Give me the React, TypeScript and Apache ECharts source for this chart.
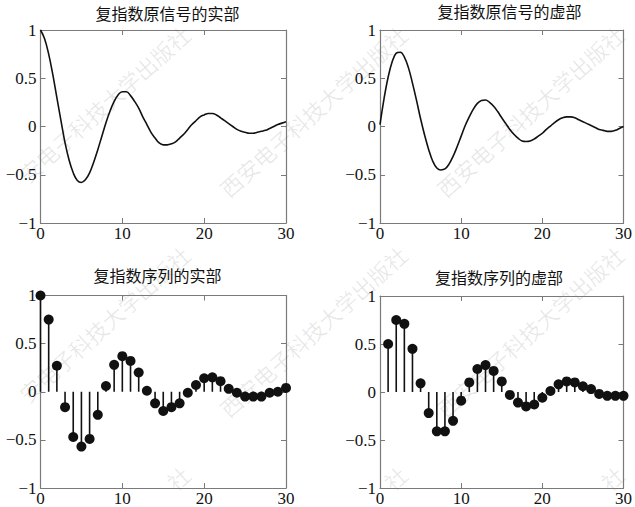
import React, { useEffect, useRef } from "react";
import * as echarts from "echarts";

const contRe = [
  1.0, 0.91, 0.75, 0.54, 0.3, 0.06, -0.17, -0.35, -0.48, -0.56, -0.58, -0.55, -0.48, -0.37, -0.24, -0.1,
  0.04, 0.16, 0.26, 0.33, 0.36, 0.36, 0.32, 0.26, 0.19, 0.1, 0.02, -0.06, -0.12, -0.17, -0.19, -0.19,
  -0.18, -0.16, -0.12, -0.08, -0.03, 0.02, 0.06, 0.1, 0.12, 0.135, 0.135, 0.12, 0.09, 0.06, 0.03, 0.0,
  -0.03, -0.05, -0.06, -0.07, -0.07, -0.06, -0.05, -0.04, -0.02, 0.0, 0.02, 0.035, 0.05,
];
const contIm = [
  0.02, 0.29, 0.51, 0.67, 0.76, 0.77, 0.72, 0.61, 0.45, 0.27, 0.08, -0.09, -0.24, -0.36, -0.43, -0.45,
  -0.44, -0.39, -0.31, -0.21, -0.1, 0.01, 0.1, 0.18, 0.24, 0.27, 0.275, 0.25, 0.21, 0.155, 0.09, 0.03,
  -0.03, -0.08, -0.12, -0.15, -0.155, -0.15, -0.13, -0.1, -0.07, -0.03, 0.005, 0.04, 0.07, 0.09, 0.1, 0.1,
  0.09, 0.07, 0.05, 0.03, 0.01, -0.01, -0.03, -0.04, -0.05, -0.05, -0.04, -0.02, 0.0,
];
const contStep = 0.5;

// Discrete sequence n = 0 … 30
const seqN = [
  0, 1, 2, 3, 4, 5, 6, 7, 8, 9, 10, 11, 12, 13, 14, 15, 16, 17, 18, 19, 20, 21, 22, 23, 24, 25, 26, 27, 28, 29, 30,
];
const seqRe = [
  1.0, 0.75, 0.27, -0.16, -0.47, -0.57, -0.49, -0.24, 0.06, 0.28, 0.37, 0.32, 0.2, 0.01, -0.12, -0.2,
  -0.16, -0.12, -0.01, 0.07, 0.14, 0.15, 0.11, 0.03, -0.01, -0.05, -0.05, -0.05, -0.01, 0.0, 0.04,
];
const seqIm = [
  null, 0.5, 0.75, 0.71, 0.45, 0.09, -0.22, -0.41, -0.41, -0.3, -0.09, 0.1, 0.24, 0.28, 0.22, 0.11,
  -0.03, -0.11, -0.15, -0.13, -0.06, 0.01, 0.08, 0.11, 0.1, 0.06, 0.03, -0.02, -0.04, -0.04, -0.04,
];

const titles = ["复指数原信号的实部", "复指数原信号的虚部", "复指数序列的实部", "复指数序列的虚部"];
const xTicks = { min: 0, max: 30, interval: 10 };
const yTicks = { min: -1, max: 1, interval: 0.5 };
const watermark = "西安电子科技大学出版社";

const W = 635;
const H = 507;

export default function App() {
  const ref = useRef<HTMLDivElement>(null);

  useEffect(() => {
    if (!ref.current) return;
    const chart = echarts.init(ref.current, null, { renderer: "svg" });

    const grids = [
      { left: 40.5, top: 30, width: 245.5, height: 193 },
      { left: 380, top: 30, width: 244.5, height: 193 },
      { left: 40.5, top: 295.5, width: 245.5, height: 193 },
      { left: 380, top: 296, width: 244.5, height: 193 },
    ];
    const titlePos = [
      [167.5, 5],
      [509.5, 3],
      [157.5, 267],
      [499, 269],
    ];

    const axisColor = "#7a7a7a";
    const labelFont = {
      fontFamily: "Liberation Serif, Times New Roman, serif",
      fontSize: 17,
      color: "#111",
    };
    const fmt = (v: number) => String(v).replace("-", "\u2212");

    const xAxis: any[] = [];
    const yAxis: any[] = [];
    grids.forEach((_, g) => {
      xAxis.push({
        type: "value",
        gridIndex: g,
        position: "bottom",
        ...xTicks,
        axisLine: { show: true, onZero: false, lineStyle: { color: axisColor, width: 1.2 } },
        axisTick: { show: true, inside: true, length: 5, lineStyle: { color: axisColor } },
        axisLabel: { ...labelFont, margin: 2, formatter: fmt },
        splitLine: { show: false },
      });
      xAxis.push({
        type: "value",
        gridIndex: g,
        position: "top",
        ...xTicks,
        axisLine: { show: true, onZero: false, lineStyle: { color: axisColor, width: 1.2 } },
        axisTick: { show: true, inside: true, length: 5, lineStyle: { color: axisColor } },
        axisLabel: { show: false },
        splitLine: { show: false },
      });
      yAxis.push({
        type: "value",
        gridIndex: g,
        position: "left",
        ...yTicks,
        axisLine: { show: true, onZero: false, lineStyle: { color: axisColor, width: 1.2 } },
        axisTick: { show: true, inside: true, length: 5, lineStyle: { color: axisColor } },
        axisLabel: { ...labelFont, margin: 4, formatter: fmt },
        splitLine: { show: false },
      });
      yAxis.push({
        type: "value",
        gridIndex: g,
        position: "right",
        ...yTicks,
        axisLine: { show: true, onZero: false, lineStyle: { color: axisColor, width: 1.2 } },
        axisTick: { show: true, inside: true, length: 5, lineStyle: { color: axisColor } },
        axisLabel: { show: false },
        splitLine: { show: false },
      });
    });

    const contData = (vals: number[]) => vals.map((v, i) => [i * contStep, v]);
    const seqData = (vals: (number | null)[]) =>
      seqN.map((n, i) => [n, vals[i]]).filter((d) => d[1] !== null);

    const stemSeries = (g: number, vals: (number | null)[]) => ({
      type: "custom",
      xAxisIndex: 2 * g,
      yAxisIndex: 2 * g,
      data: seqData(vals),
      encode: { x: 0, y: 1 },
      z: 2,
      renderItem: (params: any, api: any) => {
        const x = api.value(0);
        const y = api.value(1);
        const p0 = api.coord([x, 0]);
        const p1 = api.coord([x, y]);
        return {
          type: "line",
          shape: { x1: p0[0], y1: p0[1], x2: p1[0], y2: p1[1] },
          style: { stroke: "#111", lineWidth: 1.6 },
        };
      },
    });
    const markSeries = (g: number, vals: (number | null)[]) => ({
      type: "scatter",
      xAxisIndex: 2 * g,
      yAxisIndex: 2 * g,
      data: seqData(vals),
      symbol: "circle",
      symbolSize: 10,
      itemStyle: { color: "#111", opacity: 1 },
      z: 3,
    });
    const lineSeries = (g: number, vals: number[]) => ({
      type: "line",
      xAxisIndex: 2 * g,
      yAxisIndex: 2 * g,
      data: contData(vals),
      smooth: 0.4,
      showSymbol: false,
      lineStyle: { color: "#111", width: 1.6 },
      z: 3,
    });

    // faint diagonal watermark, only the characters that fit fully in the picture
    const ang = 0.73;
    const fs = 22;
    const dir = [Math.cos(ang), -Math.sin(ang)];
    const up = [-Math.sin(ang), -Math.cos(ang)];
    const chars = Array.from(watermark);
    const inside = (px: number, py: number) => px >= 1 && px <= W - 1 && py >= 1 && py <= H - 1;
    const graphic: any[] = [];
    [13, 230, 447].forEach((sx) =>
      [200, 420, 640].forEach((sy) => {
        const ok = chars.map((_, i) => {
          const corners = [
            [i * fs, 0],
            [(i + 1) * fs, 0],
            [i * fs, fs],
            [(i + 1) * fs, fs],
          ];
          return corners.every(([t, h]) =>
            inside(sx + t * dir[0] + h * up[0], sy + t * dir[1] + h * up[1])
          );
        });
        let a = ok.indexOf(true);
        if (a < 0) return;
        let b = a;
        while (b + 1 < chars.length && ok[b + 1]) b++;
        graphic.push({
          type: "text",
          x: sx + a * fs * dir[0],
          y: sy + a * fs * dir[1],
          rotation: ang,
          silent: true,
          z: 0,
          style: {
            text: chars.slice(a, b + 1).join(""),
            fill: "rgba(0,0,0,0.09)",
            font: `${fs}px 'Noto Sans CJK SC'`,
            textAlign: "left",
            textVerticalAlign: "bottom",
          },
        });
      })
    );

    chart.setOption({
      animation: false,
      backgroundColor: "#fff",
      title: titles.map((t, i) => ({
        text: t,
        left: titlePos[i][0],
        top: titlePos[i][1],
        textAlign: "center",
        padding: 0,
        textStyle: {
          fontFamily: "Noto Sans CJK SC",
          fontSize: 16,
          fontWeight: "normal",
          color: "#111",
        },
      })),
      grid: grids.map((g) => ({ ...g, containLabel: false })),
      xAxis,
      yAxis,
      graphic,
      series: [
        lineSeries(0, contRe),
        lineSeries(1, contIm),
        stemSeries(2, seqRe),
        markSeries(2, seqRe),
        stemSeries(3, seqIm),
        markSeries(3, seqIm),
      ],
    });

    return () => chart.dispose();
  }, []);

  return (
    <div ref={ref} style={{ position: "absolute", left: 0, top: 0, width: W, height: H }} />
  );
}
